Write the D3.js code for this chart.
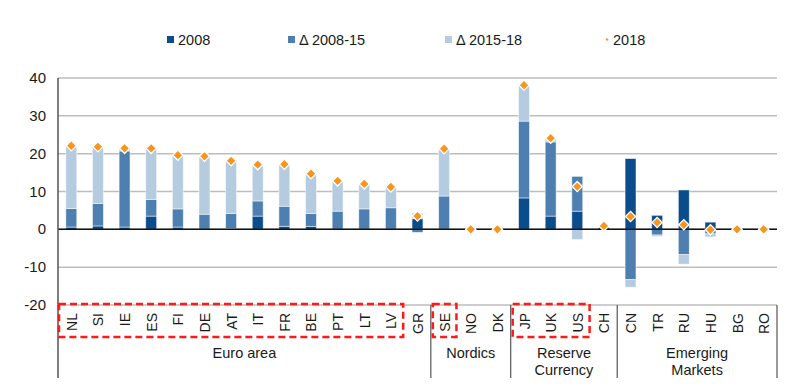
<!DOCTYPE html>
<html>
<head>
<meta charset="utf-8">
<script src="https://d3js.org/d3.v7.min.js"></script>
<style>
  body { margin: 0; background: #fff; }
  text { font-family: "Liberation Sans", Arial, sans-serif; fill: #1a1a1a; }
</style>
</head>
<body>
<svg width="800" height="388"></svg>
<script>
// data
var countries = ["NL","SI","IE","ES","FI","DE","AT","IT","FR","BE","PT","LT","LV","GR",
                 "SE","NO","DK","JP","UK","US","CH","CN","TR","RU","HU","BG","RO"];
var v2008   = [0.6, 0.9, 0.6, 3.5, 0.6, 0.0, 0.2, 3.5, 0.8, 0.8, 0.0, 0.0, 0.0, 2.8,
               0.0, 0.0, 0.0, 8.3, 3.5, 4.8, 0.5, 18.7, 3.7, 10.4, 1.9, 0.0, 0.0];
var d200815 = [4.9, 5.9, 20.1, 4.4, 4.8, 4.0, 4.0, 4.0, 5.3, 3.4, 4.8, 5.4, 5.7, -0.8,
               8.8, 0.0, 0.0, 20.3, 19.6, 9.2, 0.2, -13.3, -1.5, -6.7, -1.2, 0.0, 0.0];
var d201518 = [16.6, 15.0, 0.7, 13.5, 14.2, 15.3, 13.9, 9.6, 11.1, 10.5, 8.0, 6.6, 5.5, 1.5,
               12.5, 0.0, 0.0, 9.5, 1.0, -2.7, 0.2, -2.0, -0.4, -2.5, -0.8, 0.0, 0.0];
var seriesNames = ["2008", "\u0394 2008-15", "\u0394 2015-18", "2018"];
var yTicks = [-20, -10, 0, 10, 20, 30, 40];
var groups = [
  { name: ["Euro area"], from: "NL", to: "GR" },
  { name: ["Nordics"], from: "SE", to: "DK" },
  { name: ["Reserve", "Currency"], from: "JP", to: "CH" },
  { name: ["Emerging", "Markets"], from: "CN", to: "RO" }
];
var highlighted = [["NL", "LV"], ["SE", "SE"], ["JP", "US"]];

var colors = ["#0a4c8c", "#4d80b1", "#b4cbe0"];
var orange = "#f7961f";

var svg = d3.select("svg");
var plotLeft = 58, plotRight = 777, plotTop = 78, plotBottom = 305;

var rows = countries.map(function(c, i) {
  return { c: c, a: v2008[i], b: d200815[i], d: d201518[i], t: v2008[i] + d200815[i] + d201518[i] };
});

var x = d3.scaleBand().domain(countries).range([plotLeft, plotRight]).paddingInner(0.59).paddingOuter(0.295);
var step = x.step();
var y = d3.scaleLinear().domain([-20, 40]).range([plotBottom, plotTop]);

// gridlines
svg.append("g").selectAll("line").data(yTicks).enter().append("line")
  .attr("x1", plotLeft).attr("x2", plotRight)
  .attr("y1", function(d) { return y(d); }).attr("y2", function(d) { return y(d); })
  .attr("stroke", "#bdbdbd").attr("stroke-width", 1.5);

// y axis labels
svg.append("g").selectAll("text").data(yTicks).enter().append("text")
  .attr("x", 46).attr("y", function(d) { return y(d) + 5; })
  .attr("text-anchor", "end").attr("font-size", 15)
  .text(function(d) { return d; });

// stacked bars
var stack = d3.stack().keys(["a", "b", "d"]).offset(d3.stackOffsetDiverging);
var layers = stack(rows);
svg.append("g").selectAll("g").data(layers).enter().append("g")
  .attr("fill", function(d, i) { return colors[i]; })
  .selectAll("rect").data(function(d) { return d; }).enter().append("rect")
  .attr("x", function(d) { return x(d.data.c); })
  .attr("width", x.bandwidth())
  .attr("y", function(d) { return y(Math.max(d[0], d[1])); })
  .attr("height", function(d) { return Math.abs(y(d[0]) - y(d[1])); })
  .attr("stroke", "rgba(255,255,255,0.6)").attr("stroke-width", 0.8);

// zero line
svg.append("line").attr("x1", plotLeft).attr("x2", plotRight)
  .attr("y1", y(0)).attr("y2", y(0))
  .attr("stroke", "#111").attr("stroke-width", 1.5);

// 2018 diamonds
svg.append("g").selectAll("path").data(rows).enter().append("path")
  .attr("d", d3.symbol().type(d3.symbolSquare).size(52))
  .attr("transform", function(d) {
    return "translate(" + (x(d.c) + x.bandwidth() / 2) + "," + y(d.t) + ") rotate(45)";
  })
  .attr("fill", orange).attr("stroke", "#fff").attr("stroke-width", 1.3);

// left axis line
svg.append("line").attr("x1", plotLeft).attr("x2", plotLeft).attr("y1", plotTop).attr("y2", 378)
  .attr("stroke", "#555").attr("stroke-width", 1.5);

// group separators and labels
groups.forEach(function(g) {
  var x0 = x(g.from) - (step - x.bandwidth()) / 2;
  var x1 = x(g.to) + x.bandwidth() + (step - x.bandwidth()) / 2;
  svg.append("line").attr("x1", x1).attr("x2", x1).attr("y1", plotBottom).attr("y2", 378)
    .attr("stroke", "#555").attr("stroke-width", 1.2);
  g.name.forEach(function(line, k) {
    svg.append("text").attr("x", (x0 + x1) / 2).attr("y", 358 + k * 17)
      .attr("text-anchor", "middle").attr("font-size", 14.5).text(line);
  });
});

// category labels
svg.append("g").selectAll("text").data(countries).enter().append("text")
  .attr("transform", function(d) {
    return "translate(" + (x(d) + x.bandwidth() / 2 + 0.5) + ",313) rotate(-90)";
  })
  .attr("text-anchor", "end").attr("dominant-baseline", "central")
  .attr("font-size", 14).text(function(d) { return d; });

// red dashed boxes
highlighted.forEach(function(h) {
  var pad = (step - x.bandwidth()) / 2;
  var bx0 = x(h[0]) - pad + 2, bx1 = x(h[1]) + x.bandwidth() + pad - 1;
  if (h[0] === "NL") bx0 = plotLeft + 1;
  svg.append("rect").attr("x", bx0).attr("y", 304).attr("width", bx1 - bx0).attr("height", 33)
    .attr("fill", "none").attr("stroke", "#ff1a1a").attr("stroke-width", 2.5)
    .attr("stroke-dasharray", "7,4");
});

// legend
var legX = [167, 288, 445, 605];
seriesNames.forEach(function(name, i) {
  if (i < 3) {
    svg.append("rect").attr("x", legX[i]).attr("y", 36).attr("width", 7).attr("height", 7)
      .attr("fill", colors[i]);
  } else {
    svg.append("path").attr("d", d3.symbol().type(d3.symbolSquare).size(5))
      .attr("transform", "translate(" + (legX[i] + 2) + ",39.5) rotate(45)")
      .attr("fill", orange);
  }
  svg.append("text").attr("x", legX[i] + (i < 3 ? 11 : 8)).attr("y", 45)
    .attr("font-size", 14.5).text(name);
});
</script>
</body>
</html>
